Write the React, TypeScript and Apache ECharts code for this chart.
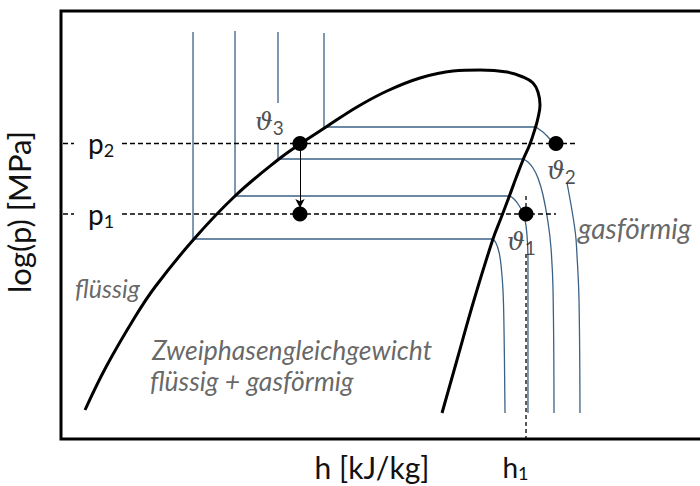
import React, { useEffect, useRef } from "react";
import * as echarts from "echarts";

// Schematic log(p)-h diagram, abstract units: h 0..100, log(p) 0..107
const domeCurve: number[][] = [
  [3.43, 7.25], [6.43, 18.0], [10.57, 30.5], [13.43, 38.0], [19.0, 50.0], [24.86, 60.75],
  [31.14, 70.0], [34.14, 73.75], [37.86, 78.0], [42.29, 83.0], [46.57, 87.0], [51.29, 90.25],
  [56.0, 92.0], [59.86, 92.25], [63.71, 91.75], [66.0, 90.5], [67.43, 89.0], [68.14, 86.75],
  [68.43, 83.5], [68.14, 80.25], [67.71, 77.5], [67.0, 73.75], [66.0, 69.75], [65.0, 65.25],
  [64.0, 60.5], [62.86, 55.25], [61.71, 50.0], [59.0, 34.75], [56.57, 19.75], [54.43, 6.5],
];

const iso1Straight: number[][] = [[18.86, 101.75], [18.86, 50.0], [61.71, 50.0]];
const iso1Bend: number[][] = [[61.71, 50.0], [62.14, 49.0], [62.57, 46.75], [62.86, 43.5], [63.14, 37.25], [63.29, 27.25], [63.43, 6.5]];
const iso2Straight: number[][] = [[24.86, 102.0], [24.86, 60.75], [64.14, 60.75]];
const iso2Bend: number[][] = [[64.14, 60.75], [64.71, 60.0], [65.29, 58.75], [65.86, 57.0], [66.29, 54.75], [66.57, 51.0], [66.71, 44.75], [66.71, 6.5]];
const iso3Upper: number[][] = [[31.0, 101.75], [31.0, 84.0]];
const iso3Straight: number[][] = [[31.0, 74.0], [31.0, 70.0], [66.0, 70.0]];
const iso3Bend: number[][] = [[66.0, 70.0], [66.71, 69.25], [67.43, 67.75], [68.14, 65.25], [68.86, 61.0], [69.57, 54.25], [70.0, 47.75], [70.29, 37.25], [70.43, 6.5]];
const iso4Straight: number[][] = [[37.57, 101.5], [37.57, 78.0], [67.86, 78.0]];
const iso4BendUpper: number[][] = [[67.86, 78.0], [68.43, 77.25], [69.0, 76.5], [69.57, 75.5], [70.14, 74.5], [70.71, 73.75]];
const iso4Lower: number[][] = [[72.29, 64.0], [73.43, 52.25], [73.71, 46.0], [74.0, 34.75], [74.14, 6.5]];

const pressureLevels = [56.25, 73.9]; // p1, p2
const pressureIndex = ["1", "2"];
const p2Dashes: number[][][] = [[[0.29, 73.9], [1.86, 73.9]], [[8.71, 73.9], [73.57, 73.9]]];
const p1Dashes: number[][][] = [[[0.29, 56.25], [1.86, 56.25]], [[8.71, 56.25], [70.71, 56.25]]];
const h1Value = 66.43;
const h1Dashes: number[][][] = [[[66.43, 60.75], [66.43, 56.25]], [[66.43, 46.25], [66.43, 0.25]]];

const statePoints: number[][] = [[34.14, 73.9], [34.14, 56.25], [70.71, 73.9], [66.43, 56.25]];
const arrowStart = [34.14, 72.25];
const arrowEnd = [34.14, 57.75];

const regionTexts = ["flüssig", "gasförmig", "Zweiphasengleichgewicht", "flüssig + gasförmig"];
const regionX = [2.0, 73.86, 13.0, 12.71];
const regionY = [37.75, 52.75, 22.25, 14.5];
const regionFontSize = [25, 28, 26.5, 26.5];

const thetaIndex = ["3", "2", "1"];
const thetaX = [27.71, 69.43, 63.71];
const thetaY = [79.5, 67.25, 49.5];

const BLUE = "#3b6186";

function lineSeries(data: number[][], color: string, width: number, smooth: number | boolean, type: any = "solid") {
  return {
    type: "line",
    data,
    smooth,
    symbol: "none",
    silent: true,
    lineStyle: { color, width, type },
    z: 2,
  };
}

export default function App() {
  const ref = useRef<HTMLDivElement>(null);
  useEffect(() => {
    if (!ref.current) return;
    const chart = echarts.init(ref.current, undefined, { renderer: "svg" });
    const subRich = {
      b: { fontFamily: "Lato", fontSize: 28, color: "#111" },
      s: { fontFamily: "Lato", fontSize: 18, color: "#111", padding: [13, 0, 0, 0] },
    };
    const series: any[] = [];
    [iso1Straight, iso2Straight, iso3Upper, iso3Straight, iso4Straight].forEach((d) =>
      series.push(lineSeries(d, BLUE, 1.3, false))
    );
    [iso1Bend, iso2Bend, iso3Bend, iso4BendUpper, iso4Lower].forEach((d) => series.push(lineSeries(d, BLUE, 1.3, 0.4)));
    [...p2Dashes, ...p1Dashes].forEach((d) => series.push(lineSeries(d, "#000", 1.5, false, [5, 3])));
    h1Dashes.forEach((d) => series.push(lineSeries(d, "#000", 1.3, false, [4, 3])));
    series.push({ ...lineSeries(domeCurve, "#000", 3, 0.4), z: 3 });
    series.push({
      type: "line",
      data: [],
      silent: true,
      markLine: {
        silent: true,
        symbol: ["none", "arrow"],
        symbolSize: [7, 9],
        label: { show: false },
        lineStyle: { color: "#000", width: 1, type: "solid" },
        data: [[{ coord: arrowStart }, { coord: arrowEnd }]],
      },
    });
    series.push({
      type: "scatter",
      data: statePoints,
      symbolSize: 15,
      itemStyle: { color: "#000", opacity: 1 },
      silent: true,
      z: 4,
    });
    series.push({
      type: "scatter",
      symbolSize: 0,
      silent: true,
      z: 5,
      data: regionTexts.map((t, i) => ({
        name: t,
        value: [regionX[i], regionY[i]],
        label: { fontSize: regionFontSize[i] },
      })),
      label: {
        show: true,
        position: "right",
        distance: 0,
        formatter: (p: any) => p.name,
        fontFamily: "Lato",
        fontStyle: "italic",
        fontSize: 26,
        color: "#404040",
      },
    });
    series.push({
      type: "scatter",
      symbolSize: 0,
      silent: true,
      z: 5,
      data: thetaIndex.map((t, i) => ({ name: t, value: [thetaX[i], thetaY[i]] })),
      label: {
        show: true,
        position: "right",
        distance: 0,
        formatter: (p: any) => `{t|ϑ}{s|${p.name}}`,
        rich: {
          t: { fontFamily: "DejaVu Serif", fontStyle: "italic", fontSize: 25, color: "#222" },
          s: { fontFamily: "Lato", fontSize: 19, color: "#222", padding: [13, 0, 0, 0] },
        },
      },
    });

    chart.setOption({
      animation: false,
      grid: {
        left: 61, top: 11, width: 700, height: 428, show: true, borderColor: "#000", borderWidth: 3,
        containLabel: false, outerBoundsMode: "none",
      },
      xAxis: {
        type: "value",
        min: 0,
        max: 100,
        splitLine: { show: false },
        axisLine: { show: false },
        axisTick: { show: false },
        axisLabel: {
          customValues: [h1Value],
          formatter: () => "{b|h}{s|1}",
          margin: 12,
          padding: [0, 21, 0, 0],
          rich: subRich,
        },
        name: "h [kJ/kg]",
        nameLocation: "middle",
        nameGap: 13,
        nameMoveOverlap: false,
        nameTextStyle: { fontFamily: "Lato", fontSize: 30, color: "#111", padding: [0, 78, 0, 0] },
      },
      yAxis: {
        type: "value",
        min: 0,
        max: 107,
        splitLine: { show: false },
        axisLine: { show: false },
        axisTick: { show: false },
        axisLabel: {
          customValues: pressureLevels,
          inside: true,
          margin: 27,
          formatter: (v: number) => `{b|p}{s|${pressureIndex[pressureLevels.indexOf(v)]}}`,
          rich: subRich,
        },
        name: "log(p) [MPa]",
        nameLocation: "middle",
        nameGap: 27,
        nameMoveOverlap: false,
        nameTextStyle: { fontFamily: "Lato", fontSize: 31, color: "#111", padding: [0, 0, 0, 26] },
      },
      series,
    });
    return () => chart.dispose();
  }, []);
  return <div ref={ref} style={{ position: "fixed", left: 0, top: 0, width: 700, height: 486, background: "#fff" }} />;
}
